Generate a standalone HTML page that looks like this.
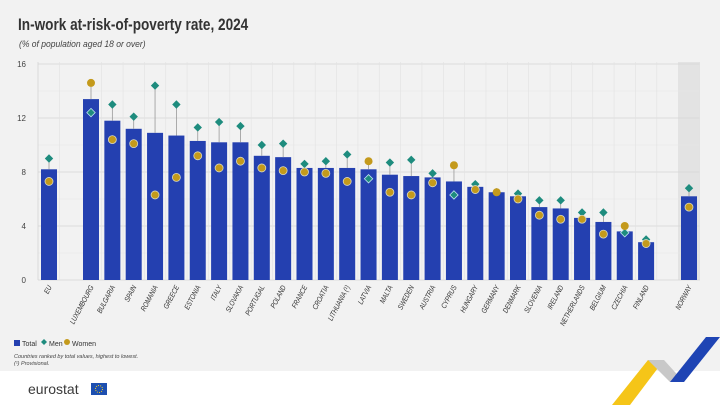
<!DOCTYPE html>
<html><head><meta charset="utf-8"><style>
html,body{margin:0;padding:0;width:720px;height:405px;overflow:hidden;background:#fff;font-family:"Liberation Sans",sans-serif}
</style></head><body>
<svg id="s" width="720" height="405" xmlns="http://www.w3.org/2000/svg" font-family="Liberation Sans, sans-serif">
<rect x="0" y="0" width="720" height="371" fill="#f2f2f2"/>
<text x="18" y="30" font-size="17" font-weight="bold" fill="#333" transform="translate(18 30) scale(0.8,1) translate(-18 -30)">In-work at-risk-of-poverty rate, 2024</text>
<text x="19" y="47" font-size="9.5" font-style="italic" fill="#444" transform="translate(19 47) scale(0.9,1) translate(-19 -47)">(% of population aged 18 or over)</text>
<rect x="678" y="62" width="22" height="218" fill="#e3e3e3"/>
<g id="grid"></g>
<g id="bars"></g>
<g id="lab"></g>
<rect x="14" y="340" width="6" height="6" fill="#2440b0"/>
<text x="22" y="346" font-size="7" fill="#333">Total</text>
<path d="M44 339 L47 342 L44 345 L41 342Z" fill="#1e8c7e"/>
<text x="49" y="346" font-size="7" fill="#333">Men</text>
<circle cx="67" cy="342" r="3" fill="#c49a1c"/>
<text x="72" y="346" font-size="7" fill="#333">Women</text>
<text x="14" y="358" font-size="5.5" font-style="italic" fill="#444">Countries ranked by total values, highest to lowest.</text>
<text x="14" y="365" font-size="5.5" font-style="italic" fill="#444">(¹) Provisional.</text>
<text x="28" y="394" font-size="14" fill="#3a3a3a">eurostat</text>
<rect x="91" y="383" width="16" height="12" fill="#1d4fb0"/>
<circle cx="99" cy="389" r="3.5" fill="none" stroke="#f5d020" stroke-width="1" stroke-dasharray="1 1.2"/>
<polygon points="612,405 648,360 664,360 630,405" fill="#f5c518"/>
<polygon points="648,360 664,360 684,382 670,382" fill="#c8c8c8"/>
<polygon points="670,382 684,382 720,337 706,337" fill="#1e44b4"/>
</svg>
<script>
const d=[["EU",8.2,9.0,7.3],["LUXEMBOURG",13.4,12.4,14.6],["BULGARIA",11.8,13.0,10.4],["SPAIN",11.2,12.1,10.1],["ROMANIA",10.9,14.4,6.3],["GREECE",10.7,13.0,7.6],["ESTONIA",10.3,11.3,9.2],["ITALY",10.2,11.7,8.3],["SLOVAKIA",10.2,11.4,8.8],["PORTUGAL",9.2,10.0,8.3],["POLAND",9.1,10.1,8.1],["FRANCE",8.3,8.6,8.0],["CROATIA",8.3,8.8,7.9],["LITHUANIA (¹)",8.3,9.3,7.3],["LATVIA",8.2,7.5,8.8],["MALTA",7.8,8.7,6.5],["SWEDEN",7.7,8.9,6.3],["AUSTRIA",7.6,7.9,7.2],["CYPRUS",7.3,6.3,8.5],["HUNGARY",6.9,7.1,6.7],["GERMANY",6.5,6.5,6.5],["DENMARK",6.2,6.4,6.0],["SLOVENIA",5.4,5.9,4.8],["IRELAND",5.3,5.9,4.5],["NETHERLANDS",4.6,5.0,4.5],["BELGIUM",4.3,5.0,3.4],["CZECHIA",3.6,3.5,4.0],["FINLAND",2.8,3.0,2.7],["NORWAY",6.2,6.8,5.4]];
const Y=v=>280-v*13.5, ns="http://www.w3.org/2000/svg";
function el(p,t,a,txt){const e=document.createElementNS(ns,t);for(const k in a)e.setAttribute(k,a[k]);if(txt)e.textContent=txt;document.getElementById(p).appendChild(e);return e;}
const xs=d.map((r,i)=>i==0?49:i==28?689:91+(i-1)*21.35);
for(let v=0;v<=16;v+=2){el("grid","line",{x1:38,x2:700,y1:Y(v),y2:Y(v),stroke:v%4?"#e6e6e6":"#d4d4d4","stroke-width":v%4?0.6:0.8});
 if(v%4==0)el("grid","text",{x:26,y:Y(v)+3,"font-size":8,fill:"#444","text-anchor":"end"},String(v));}
el("grid","line",{x1:38,x2:38,y1:62,y2:280,stroke:"#d4d4d4","stroke-width":0.8});
xs.forEach(x=>{el("grid","line",{x1:x+10.7,x2:x+10.7,y1:62,y2:280,stroke:"#e2e2e2","stroke-width":0.6});});
d.forEach((r,i)=>{const x=xs[i];
 el("bars","rect",{x:x-8,y:Y(r[1]),width:16,height:r[1]*13.5,fill:"#2440b0"});
 const top=Math.max(r[2],r[3]);
 if(top>r[1])el("bars","line",{x1:x,x2:x,y1:Y(top),y2:Y(r[1]),stroke:"#999","stroke-width":0.8});
 const ym=Y(r[2]),yw=Y(r[3]);
 el("bars","path",{d:`M${x} ${ym-4.2}L${x+4.2} ${ym}L${x} ${ym+4.2}L${x-4.2} ${ym}Z`,fill:"#1e8c7e",stroke:r[2]<r[1]?"#bfe3f0":"none","stroke-width":0.8});
 el("bars","circle",{cx:x,cy:yw,r:4,fill:"#c49a1c",stroke:r[3]<r[1]?"#d9d9c0":"none","stroke-width":0.8});
 el("lab","text",{x:0,y:0,"font-size":7.5,"font-style":"italic",fill:"#333","text-anchor":"end",transform:`translate(${x+3},${287}) rotate(-62) scale(0.8,1)`},r[0]);
});
</script>
</body></html>
